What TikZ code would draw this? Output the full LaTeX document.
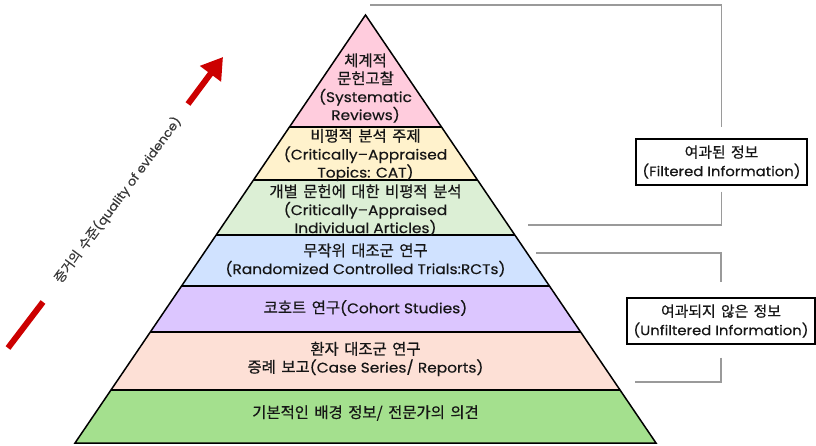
\documentclass[tikz,border=0pt]{standalone}
\usepackage{fontspec}
\setmainfont{Poppins}[FakeBold=0.4, FakeStretch=1.1]
\newfontfamily\krfont{Noto Sans CJK KR}[FakeBold=0.5, Scale=1.1, WordSpace=1.6]
\usetikzlibrary{arrows.meta}
\definecolor{cpink}{HTML}{FFCCDD}
\definecolor{cyellow}{HTML}{FFF2CC}
\definecolor{clgreen}{HTML}{DCEFD5}
\definecolor{cblue}{HTML}{D0E2FF}
\definecolor{cpurple}{HTML}{DCC6FF}
\definecolor{cpeach}{HTML}{FDE0D6}
\definecolor{cgreen}{HTML}{A4E08E}
\definecolor{cgray}{HTML}{9A9A9A}
\definecolor{cred}{HTML}{CC0000}
\definecolor{ctext}{HTML}{161616}
\tikzset{
  bandtext/.style={align=center, text=ctext, font=\fontsize{14}{18}\selectfont, inner sep=0pt},
  infobox/.style={draw=black, line width=1.4pt, fill=white, align=center, text=ctext,
    font=\fontsize{13.5}{18.5}\selectfont, inner sep=0pt},
  bracket/.style={draw=cgray, line width=1.6pt},
  sep/.style={draw=black, line width=1.5pt},
}
\begin{document}
\begin{tikzpicture}[x=1pt,y=-1pt]
\path[use as bounding box] (0,0) rectangle (816,446);
% pyramid
\coordinate (A) at (365.5,15);
\coordinate (L) at (75,443);
\coordinate (R) at (656,443);
\begin{scope}
\clip (A) -- (L) -- (R) -- cycle;
\fill[cpink]   (0,0)   rectangle (816,127);
\fill[cyellow] (0,127) rectangle (816,180);
\fill[clgreen] (0,180) rectangle (816,235);
\fill[cblue]   (0,235) rectangle (816,286);
\fill[cpurple] (0,286) rectangle (816,332);
\fill[cpeach]  (0,332) rectangle (816,390);
\fill[cgreen]  (0,390) rectangle (816,446);
\draw[sep] (0,127) -- (816,127);
\draw[sep] (0,180) -- (816,180);
\draw[sep] (0,235) -- (816,235);
\draw[sep] (0,286) -- (816,286);
\draw[sep] (0,332) -- (816,332);
\draw[sep] (0,390) -- (816,390);
\end{scope}
\draw[line width=1.5pt, line join=miter] (A) -- (L) -- (R) -- cycle;
% band texts
\node[bandtext] (t1) at (365.5,88) {{\krfont 체계적}\\{\krfont 문헌고찰}\\(Systematic\\Reviews)};
\node[bandtext] (t2) at (365.5,155) {{\krfont 비평적 분석 주제}\\(Critically–Appraised\\Topics: CAT)};
\node[bandtext] (t3) at (365.5,210) {{\krfont 개별 문헌에 대한 비평적 분석}\\(Critically–Appraised\\Individual Articles)};
\node[bandtext] (t4) at (365.5,260) {{\krfont 무작위 대조군 연구}\\(Randomized Controlled Trials:RCTs)};
\node[bandtext] (t5) at (365.5,308) {{\krfont 코호트 연구}(Cohort Studies)};
\node[bandtext] (t6) at (365.5,359) {{\krfont 환자 대조군 연구}\\{\krfont 증례 보고}(Case Series/ Reports)};
\node[bandtext] (t7) at (365.5,413) {{\krfont 기본적인 배경 정보/ 전문가의 의견}};
% filtered bracket
\node[infobox, minimum width=171pt, minimum height=46pt] (F) at (721.5,162) {{\krfont 여과된 정보}\\(Filtered Information)};
\coordinate (f1) at (370,5);
\coordinate (f3) at (528,225);
\draw[bracket] (f1) -| ([yshift=11pt]F.north);
\draw[bracket] ([yshift=-6pt]F.south) |- (f3);
% unfiltered bracket
\node[infobox, minimum width=188pt, minimum height=46pt] (U) at (721,321) {{\krfont 여과되지 않은 정보}\\(Unfiltered Information)};
\coordinate (u1) at (536,253);
\coordinate (u3) at (635,382);
\draw[bracket] (u1) -| ([yshift=15pt]U.north);
\draw[bracket] ([yshift=-13pt]U.south) |- (u3);
% quality arrow
\coordinate (q0) at (8,348);
\coordinate (q1) at (43,302);
\coordinate (q2) at (188,104);
\coordinate (q3) at (223,57);
\draw[cred, line width=6pt] (q0) -- (q1);
\draw[cred, line width=6pt, -{Triangle[width=25pt,length=21pt]}] (q2) -- (q3);
\node[rotate=53.5, text=ctext!85, font=\fontsize{12}{14}\selectfont, inner sep=0pt] (Q) at (118,200) {{\krfont 증거의 수준}(quality of evidence)};
\end{tikzpicture}
\end{document}
